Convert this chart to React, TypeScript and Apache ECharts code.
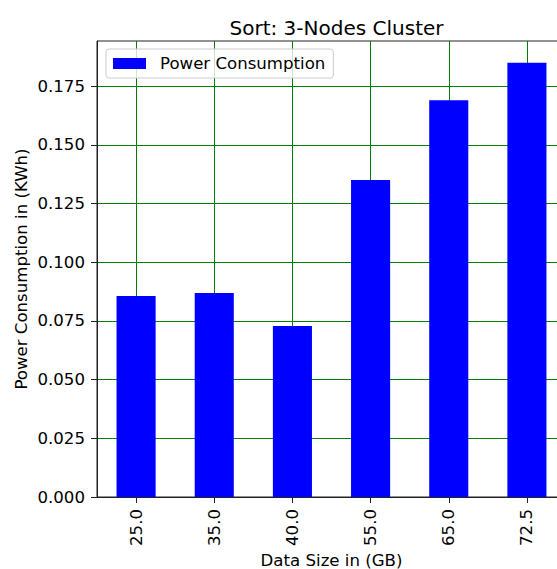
import React, { useEffect, useRef } from "react";
import * as echarts from "echarts";

const categories = ["25.0", "35.0", "40.0", "55.0", "65.0", "72.5"];
const powerValues = [0.0856, 0.0869, 0.0728, 0.135, 0.169, 0.185];
const yTicks = [0, 0.025, 0.05, 0.075, 0.1, 0.125, 0.15, 0.175];
const seriesName = "Power Consumption";
const titleText = "Sort: 3-Nodes Cluster";
const xName = "Data Size in (GB)";
const yName = "Power Consumption in (KWh)";

const FONT = "DejaVu Sans";

export default function App() {
  const ref = useRef<HTMLDivElement>(null);
  useEffect(() => {
    if (!ref.current) return;
    const chart = echarts.init(ref.current, null, { renderer: "svg" });
    const yMax = Math.max(...powerValues) * 1.05;
    chart.setOption({
      animation: false,
      backgroundColor: "#ffffff",
      textStyle: { fontFamily: FONT },
      title: {
        text: titleText,
        left: 331.5,
        textAlign: "center",
        top: 13,
        textStyle: { fontFamily: FONT, fontSize: 20, fontWeight: "normal", color: "#000" },
      },
      legend: {
        left: 106,
        top: 49,
        icon: "rect",
        itemWidth: 33,
        itemHeight: 11,
        padding: [6, 8, 6, 7],
        backgroundColor: "rgba(255,255,255,0.8)",
        borderColor: "#cccccc",
        borderWidth: 1,
        borderRadius: 3,
        textStyle: { fontFamily: FONT, fontSize: 16.6, color: "#000", padding: [0, 0, 0, 9] },
        data: [seriesName],
      },
      grid: {
        left: 97,
        top: 41,
        width: 469,
        height: 456,
        outerBoundsMode: "none",
        containLabel: false,
        show: true,
        borderColor: "#222",
        borderWidth: 1,
        backgroundColor: "transparent",
      },
      xAxis: {
        type: "category",
        data: categories,
        name: xName,
        nameLocation: "middle",
        nameGap: 55,
        nameMoveOverlap: false,
        nameTextStyle: { fontFamily: FONT, fontSize: 16.6, lineHeight: 17, color: "#000" },
        axisLine: { show: true, lineStyle: { color: "#222", width: 1 } },
        axisTick: { show: true, alignWithLabel: true, length: 6, lineStyle: { color: "#222" } },
        axisLabel: {
          rotate: 90,
          margin: 12,
          fontFamily: FONT,
          fontSize: 16.6,
          color: "#000",
        },
        splitLine: { show: true, alignWithLabel: true, lineStyle: { color: "#008000", width: 1 } },
      },
      yAxis: {
        type: "value",
        min: 0,
        max: yMax,
        interval: 0.025,
        name: yName,
        nameLocation: "middle",
        nameGap: 67,
        nameMoveOverlap: false,
        nameTextStyle: { fontFamily: FONT, fontSize: 16.6, color: "#000" },
        axisLine: { show: true, lineStyle: { color: "#222", width: 1 } },
        axisTick: { show: true, length: 6, lineStyle: { color: "#222" }, customValues: yTicks },
        axisLabel: {
          margin: 12,
          fontFamily: FONT,
          fontSize: 16.6,
          color: "#000",
          customValues: yTicks,
          formatter: (v: number) => v.toFixed(3),
        },
        splitLine: { show: true, lineStyle: { color: "#008000", width: 1 } },
      },
      series: [
        {
          name: seriesName,
          type: "bar",
          data: powerValues,
          barWidth: "50%",
          itemStyle: { color: "#0000ff" },
          z: 1,
        },
      ],
    });
    return () => chart.dispose();
  }, []);
  return (
    <div
      ref={ref}
      style={{ position: "absolute", left: 0, top: 0, width: 557, height: 569 }}
    />
  );
}
